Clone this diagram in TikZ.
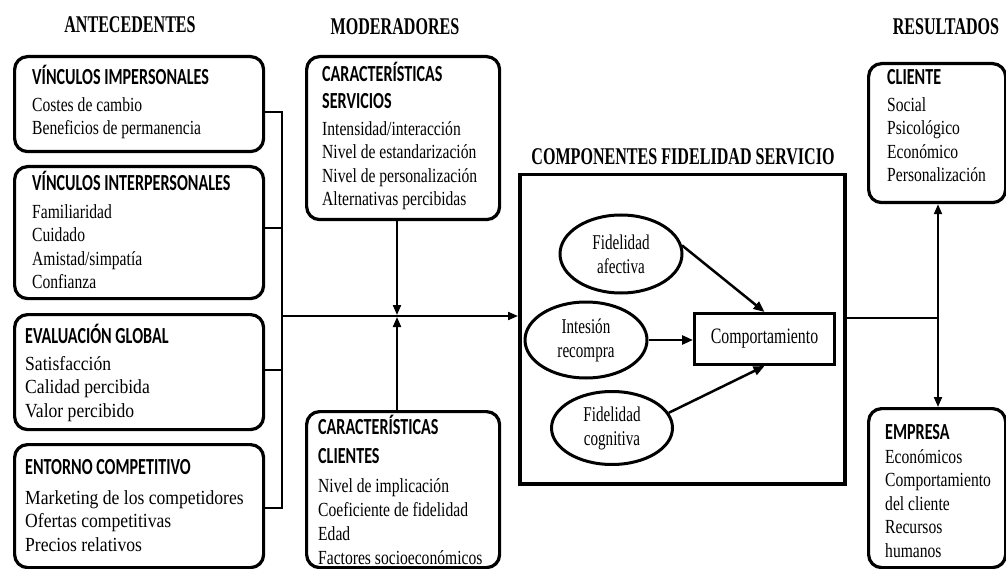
\documentclass[tikz,border=0pt]{standalone}
\usepackage{fontspec}
\setmainfont{Liberation Serif}
\newfontfamily\hdrfont[FakeStretch=0.67]{Liberation Serif}
\newfontfamily\calfont[FakeStretch=0.70]{Carlito}
\newfontfamily\bodyA[FakeStretch=0.78]{Liberation Serif}
\newfontfamily\bodyB[FakeStretch=0.88]{Liberation Serif}
\newfontfamily\bodyC[FakeStretch=0.72]{Liberation Serif}
\usetikzlibrary{arrows.meta,shapes.geometric}
\newcommand{\hd}[1]{{\calfont\bfseries\fontsize{23}{23.5}\selectfont #1}}
\newcommand{\fst}{\rule{0pt}{20pt}}
\begin{document}
\begin{tikzpicture}[x=1pt,y=-1pt,
  rbox/.style={draw, line width=3.2pt, rounded corners=13pt, anchor=north west, inner sep=0pt},
  txt/.style={anchor=north west, inner sep=0pt, align=left, font=\bodyA\fontsize{20}{23.5}\selectfont},
  txtb/.style={txt, font=\bodyB\fontsize{20}{23.5}\selectfont},
  hdr/.style={font=\hdrfont\bfseries\fontsize{24}{28}\selectfont, inner sep=0pt},
  bus/.style={line width=1.3pt},
  link/.style={line width=2pt},
  arr/.style={line width=2pt, -{Triangle[length=10pt,width=8pt]}},
  arrb/.style={line width=2.5pt, -{Triangle[length=11pt,width=9pt]}},
  oval/.style={draw, ellipse, line width=3pt, inner sep=0pt, align=center, font=\bodyC\fontsize{21}{24}\selectfont},
  sqbox/.style={draw, anchor=north west, inner sep=0pt}
]
\useasboundingbox (0,0) rectangle (1006,569);
% headings
\node[hdr] (hA) at (130,25) {ANTECEDENTES};
\node[hdr] (hM) at (395,27) {MODERADORES};
\node[hdr] (hR) at (946,27) {RESULTADOS};
\node[hdr] (hC) at (683,157) {COMPONENTES FIDELIDAD SERVICIO};
% antecedent boxes
\node[rbox, minimum width=249pt, minimum height=95pt] (b1) at (13,55) {};
\node[txt] (t1) at (32,64) {\fst\hd{VÍNCULOS IMPERSONALES}\\[3.5pt]Costes de cambio\\Beneficios de permanencia};
\node[rbox, minimum width=249pt, minimum height=132pt] (b2) at (13,165) {};
\node[txt] (t2) at (32,170) {\fst\hd{VÍNCULOS INTERPERSONALES}\\[4.5pt]Familiaridad\\Cuidado\\Amistad/simpatía\\Confianza};
\node[rbox, minimum width=249pt, minimum height=115pt] (b3) at (13,313) {};
\node[txtb] (t3) at (25,323) {\fst\hd{EVALUACIÓN GLOBAL}\\[3.5pt]Satisfacción\\Calidad percibida\\Valor percibido};
\node[rbox, minimum width=249pt, minimum height=123pt] (b4) at (13,443) {};
\node[txtb] (t4) at (25,454) {\fst\hd{ENTORNO COMPETITIVO}\\[6.5pt]Marketing de los competidores\\Ofertas competitivas\\Precios relativos};
% moderators
\node[rbox, minimum width=193pt, minimum height=163pt] (mt) at (305,55) {};
\node[txt] (tmt) at (322,61) {\fst\hd{CARACTERÍSTICAS}\\[3.5pt]\hd{SERVICIOS}\\[3.5pt]Intensidad/interacción\\Nivel de estandarización\\Nivel de personalización\\Alternativas percibidas};
\node[rbox, minimum width=193pt, minimum height=156pt] (mb) at (305,410) {};
\node[txt] (tmb) at (318,414) {\fst\hd{CARACTERÍSTICAS}\\[5.5pt]\hd{CLIENTES}\\[5.5pt]Nivel de implicación\\[0.5pt]Coeficiente de fidelidad\\[0.5pt]Edad\\[0.5pt]Factores socioeconómicos};
% results
\node[rbox, minimum width=137pt, minimum height=139pt] (cb) at (867,62) {};
\node[txt] (tcb) at (887,64) {\fst\hd{CLIENTE}\\[3.5pt]Social\\Psicológico\\Económico\\Personalización};
\node[rbox, minimum width=137pt, minimum height=159pt] (eb) at (867,407) {};
\node[txt] (teb) at (885,419) {\fst\hd{EMPRESA}\\[0.5pt]Económicos\\Comportamiento\\del cliente\\Recursos\\humanos};
% components
\node[sqbox, line width=3.5pt, minimum width=325pt, minimum height=309pt] (big) at (518,173) {};
\node[sqbox, line width=3pt, minimum width=140pt, minimum height=51pt, font=\bodyC\fontsize{22}{26}\selectfont] (comp) at (693,312) {Comportamiento};
\node[oval, minimum width=122pt, minimum height=78pt] (aff) at (621,254) {Fidelidad\\afectiva};
\node[oval, minimum width=122pt, minimum height=76pt] (rec) at (586,340) {Intesión\\recompra};
\node[oval, minimum width=121pt, minimum height=73pt] (cog) at (612,428) {Fidelidad\\cognitiva};
% connectors left
\coordinate (j1) at (282,112);
\coordinate (j2) at (282,228);
\coordinate (j3) at (282,370);
\coordinate (j4) at (282,508);
\coordinate (jm) at (282,316);
\coordinate (xm) at (397,316);
\draw[bus] (b1.east |- j1) -- (j1) -- (j4) -- (b4.east |- j4);
\draw[bus] (b2.east |- j2) -- (j2);
\draw[bus] (b3.east |- j3) -- (j3);
\draw[arr] (jm) -- (big.west |- jm);
\draw[arr] (mt.south -| xm) -- ([yshift=1pt]xm);
\draw[arr] (mb.north -| xm) -- ([yshift=-1pt]xm);
% connectors right
\coordinate (rj) at (938,318);
\draw[link] (big.east |- rj) -- (rj);
\draw[arr] (rj) -- (cb.south -| rj);
\draw[arr] (rj) -- (eb.north -| rj);
% inner arrows
\draw[arrb] (aff.8) -- (comp.north);
\draw[arrb] (rec.east) -- (comp.west |- rec.east);
\draw[arrb] (cog.15) -- (comp.south);
\end{tikzpicture}
\end{document}
